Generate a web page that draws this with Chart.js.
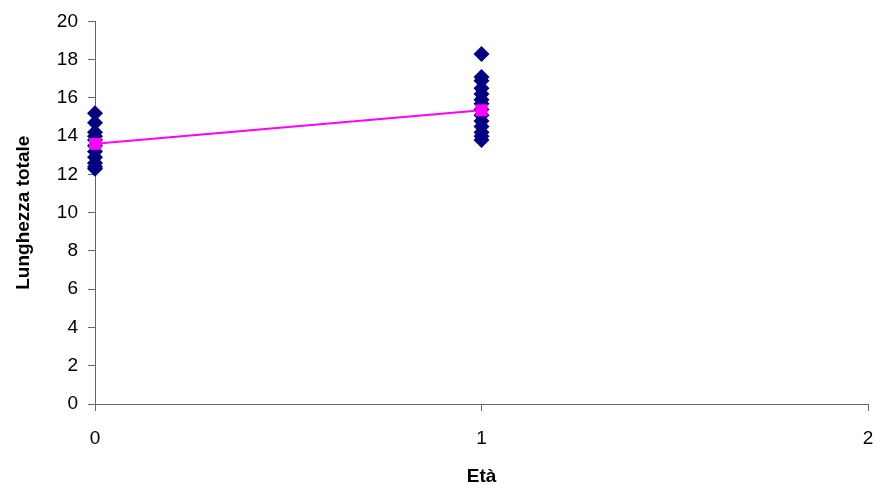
<!DOCTYPE html>
<html>
<head>
<meta charset="utf-8">
<script src="https://cdn.jsdelivr.net/npm/chart.js@4"></script>
<style>
  html, body { margin: 0; padding: 0; background: #fff; }
  #wrap { width: 882px; height: 494px; }
</style>
</head>
<body>
<div id="wrap"><canvas id="lenChart" width="882" height="494"></canvas></div>
<script>
// individual fish lengths per age class
var eta0 = [15.2, 14.7, 14.2, 14.0, 13.8, 13.5, 13.2, 12.9, 12.6, 12.4, 12.3];
var eta1 = [18.3, 17.1, 16.9, 16.5, 16.2, 15.9, 15.7, 15.4, 15.1, 14.8, 14.5, 14.2, 14.0, 13.8];
// mean length per age
var etaMedia = [0, 1];
var lunghezzaMedia = [13.6, 15.35];

var punti = [];
eta0.forEach(function (v) { punti.push({ x: 0, y: v }); });
eta1.forEach(function (v) { punti.push({ x: 1, y: v }); });

var medie = etaMedia.map(function (e, i) { return { x: e, y: lunghezzaMedia[i] }; });

var font = 'Liberation Sans, Arial, sans-serif';
var axisGrey = '#666666';

var ctx = document.getElementById('lenChart').getContext('2d');
var lenChart = new Chart(ctx, {
    type: 'scatter',
    data: {
        datasets: [{
            label: 'Medie',
            data: medie,
            showLine: true,
            clip: false,
            borderColor: '#ff00ff',
            backgroundColor: '#ff00ff',
            borderWidth: 2,
            pointStyle: 'rect',
            pointRadius: 8.5,
            pointBorderWidth: 0,
            order: 1
        }, {
            label: 'Lunghezza',
            data: punti,
            clip: false,
            borderColor: '#000080',
            backgroundColor: '#000080',
            pointStyle: 'rectRot',
            pointRadius: 8,
            pointBorderWidth: 0,
            order: 2
        }]
    },
    options: {
        responsive: false,
        animation: false,
        layout: { autoPadding: false, padding: { top: 19, right: 14, left: 0, bottom: 0 } },
        plugins: {
            legend: { display: false },
            tooltip: { enabled: false }
        },
        scales: {
            x: {
                type: 'linear',
                min: 0,
                max: 2,
                afterFit: function (s) {
                    s.height = 90;
                    s.paddingRight = 0;
                    s.paddingLeft = 0;
                },
                ticks: {
                    stepSize: 1,
                    color: '#000',
                    padding: 16,
                    font: { family: font, size: 19 }
                },
                grid: {
                    drawOnChartArea: false,
                    tickLength: 7,
                    color: axisGrey
                },
                border: { color: axisGrey, width: 1 },
                title: {
                    display: true,
                    text: 'Età',
                    color: '#000',
                    padding: { top: 10, bottom: 6 },
                    font: { family: font, size: 19, weight: 'bold' }
                }
            },
            y: {
                min: 0,
                max: 20,
                afterFit: function (s) { s.width = 95; },
                ticks: {
                    stepSize: 2,
                    color: '#000',
                    padding: 10,
                    font: { family: font, size: 19 }
                },
                grid: {
                    drawOnChartArea: false,
                    tickLength: 7,
                    color: axisGrey
                },
                border: { color: axisGrey, width: 1 },
                title: {
                    display: true,
                    text: 'Lunghezza totale',
                    color: '#000',
                    padding: { top: 12, bottom: 0 },
                    font: { family: font, size: 19, weight: 'bold' }
                }
            }
        }
    }
});
</script>
</body>
</html>
